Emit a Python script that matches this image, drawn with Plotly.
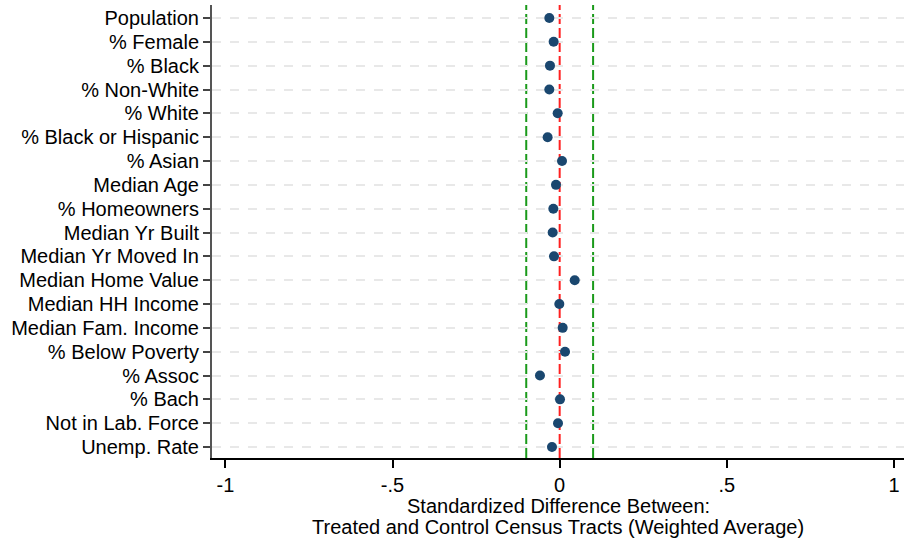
import plotly.graph_objects as go

categories = ["Population", "% Female", "% Black", "% Non-White", "% White",
              "% Black or Hispanic", "% Asian", "Median Age", "% Homeowners",
              "Median Yr Built", "Median Yr Moved In", "Median Home Value",
              "Median HH Income", "Median Fam. Income", "% Below Poverty",
              "% Assoc", "% Bach", "Not in Lab. Force", "Unemp. Rate"]
std_diff = [-0.031, -0.018, -0.029, -0.031, -0.006, -0.036, 0.007, -0.011,
            -0.019, -0.021, -0.017, 0.045, -0.001, 0.009, 0.016, -0.059,
            0.001, -0.005, -0.023]
x_ticks = [-1, -0.5, 0, 0.5, 1]
x_tick_labels = ["-1", "-.5", "0", ".5", "1"]
threshold_lines = [-0.1, 0.1]
zero_line = 0
title_lines = ["Standardized Difference Between:",
               "Treated and Control Census Tracts (Weighted Average)"]

FONT = "Liberation Sans, Arial, sans-serif"

fig = go.Figure()
fig.add_trace(go.Scatter(
    x=std_diff, y=categories, mode="markers",
    marker=dict(color="#1a476f", size=10, line=dict(width=0)),
    showlegend=False, cliponaxis=False,
))

for xv in threshold_lines:
    fig.add_shape(type="line", xref="x", yref="paper", x0=xv, x1=xv, y0=0, y1=1,
                  line=dict(color="#1a9a1a", width=2, dash="10px,4px"), layer="below")
fig.add_shape(type="line", xref="x", yref="paper", x0=zero_line, x1=zero_line, y0=0, y1=1,
              line=dict(color="#ff2020", width=2, dash="10px,4px"), layer="below")

for i, t in enumerate(title_lines):
    fig.add_annotation(text=t, xref="paper", yref="paper", x=0.5, y=0,
                       xanchor="center", yanchor="middle", showarrow=False,
                       yshift=-48 - 21 * i, font=dict(size=20, color="black"))

fig.update_layout(
    width=904, height=544,
    margin=dict(l=212, r=0, t=5, b=86),
    paper_bgcolor="white", plot_bgcolor="white",
    font=dict(family=FONT, size=20, color="black"),
    xaxis=dict(
        range=[-1.04, 1.03], tickvals=x_ticks, ticktext=x_tick_labels,
        ticks="outside", ticklen=8, tickwidth=1.5, tickcolor="black",
        showline=True, linecolor="black", linewidth=1.5,
        showgrid=False, zeroline=False,
        tickfont=dict(size=20),
    ),
    yaxis=dict(
        type="category", categoryorder="array", categoryarray=categories,
        tickmode="array", tickvals=categories, ticktext=categories,
        range=[18.46, -0.545],
        ticks="outside", ticklen=7, tickwidth=1.5, tickcolor="#444",
        showline=True, linecolor="#555", linewidth=2,
        showgrid=True, gridcolor="#e8e8e8", gridwidth=2, griddash="dash",
        zeroline=False, tickfont=dict(size=20),
    ),
)

fig.write_html("out.html")
